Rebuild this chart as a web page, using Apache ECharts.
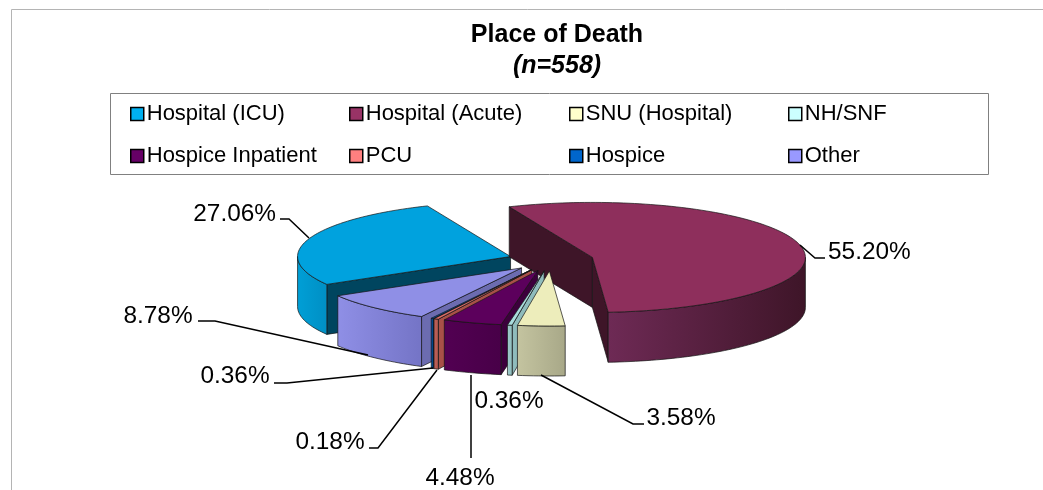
<!DOCTYPE html>
<html><head><meta charset="utf-8">
<style>html,body{margin:0;padding:0;background:#fff}#c{width:1043px;height:490px}</style>
<script src="https://cdn.jsdelivr.net/npm/echarts@6/dist/echarts.min.js"></script>
</head><body><div id="c"></div>
<script>
const categories = ['Hospital (ICU)','Hospital (Acute)','SNU (Hospital)','NH/SNF','Hospice Inpatient','PCU','Hospice','Other'];
const percents = [27.06,55.20,3.58,0.36,4.48,0.36,0.18,8.78];
const legendColumns = [[0,4],[1,5],[2,6],[3,7]];
const legendLefts = [130,349,569,788];
const legendColors = ['#00b0f0','#993366','#ffffcc','#ccffff','#660066','#ff8080','#0066cc','#9999ff'];
const topColors = ['#00a2de','#8e2f5c','#ededbb','#a9dcdc','#5c005c','#d86b66','#0059b0','#8f8fe6'];
const wallLeft = ['#009fd6','#6e2a55','#c4c4a0','#9fcccc','#520052','#c06058','#004f9e','#8f8fe6'];
const wallRight = ['#008fc4','#3e1528','#a8a888','#8fbcbc','#480048','#b05850','#004a90','#7474c6'];
const sideColors = ['#00455f','#3e1528','#a8a888','#8fbcbc','#3c003c','#a85048','#004488','#6c6cb0'];
// text anchor [x,y,align], leader polyline from label to slice
const labelAnchors = [[276,214,'right'],[828,252,'left'],[681,418,'center'],[509,401,'center'],[460,478,'center'],[235,376,'center'],[330,442,'center'],[158,316,'center']];
const leaders = [[[280,219],[289,219],[309,238]],[[825,258],[815,258],[800,245]],[[644,424],[633,424],[541,375]],null,[[471,458],[471,375]],[[274,383],[287,383],[433,368]],[[369,448],[378,448],[437,370]],[[198,321],[215,321],[368,355]]];

const CX=551, CY=260, RX=213, RY=55, DEPTH=50, EXPLODE=0.2, START=149.6;
const rad=d=>d*Math.PI/180;
let acc=START;
const slices=percents.map((p,i)=>{
  const t1=acc, t2=acc+p*3.6; acc=t2; const m=(t1+t2)/2;
  return {i,t1,t2,m,ax:CX+EXPLODE*RX*Math.cos(rad(m)),ay:CY+EXPLODE*RY*Math.sin(rad(m))};
});
const pt=(s,t,dz)=>[s.ax+RX*Math.cos(rad(t)),s.ay+RY*Math.sin(rad(t))+(dz||0)];
function arc(s,a,b,dz){const n=Math.max(2,Math.ceil((b-a)/1.5));const o=[];for(let k=0;k<=n;k++)o.push(pt(s,a+(b-a)*k/n,dz));return o;}
const STROKE={stroke:'#141414',lineWidth:0.7};
function sliceShape(s){
  const ch=[]; const i=s.i;
  const wall=(a,fill)=>{
    const p0=[s.ax,s.ay],p1=pt(s,a);
    ch.push({type:'polygon',shape:{points:[p0,p1,[p1[0],p1[1]+DEPTH],[p0[0],p0[1]+DEPTH]]},style:Object.assign({fill},STROKE)});
  };
  if(Math.cos(rad(s.t1))<0) wall(s.t1,sideColors[i]);
  if(Math.cos(rad(s.t2))>0) wall(s.t2,sideColors[i]);
  for(let k=-1;k<=2;k++){
    const a=Math.max(s.t1,360*k),b=Math.min(s.t2,180+360*k);
    if(b>a){
      const up=arc(s,a,b,0),dn=arc(s,a,b,DEPTH).reverse();
      const fill=new echarts.graphic.LinearGradient(0,0,1,0,[{offset:0,color:wallLeft[i]},{offset:1,color:wallRight[i]}]);
      ch.push({type:'polygon',shape:{points:up.concat(dn)},style:Object.assign({fill},STROKE)});
    }
  }
  ch.push({type:'polygon',shape:{points:[[s.ax,s.ay]].concat(arc(s,s.t1,s.t2,0))},style:Object.assign({fill:topColors[i]},STROKE)});
  return {type:'group',children:ch};
}
const drawOrder=slices.slice().sort((a,b)=>Math.sin(rad(a.m))-Math.sin(rad(b.m)));
const sliceSeries=drawOrder.map((s,o)=>({
  type:'custom',coordinateSystem:'none',name:categories[s.i],z:2+o*0.01,silent:true,
  itemStyle:{color:legendColors[s.i]},
  data:[[percents[s.i]]],
  renderItem:()=>sliceShape(s)
}));
const labelSeries={
  type:'custom',coordinateSystem:'none',name:'labels',z:5,silent:true,
  data:percents.map(p=>[p]),
  renderItem:(params,api)=>{
    const i=params.dataIndex,a=labelAnchors[i],ch=[];
    if(leaders[i]) ch.push({type:'polyline',shape:{points:leaders[i]},style:{stroke:'#000',lineWidth:1.5,fill:'none'}});
    ch.push({type:'text',x:a[0],y:a[1],style:{text:api.value(0).toFixed(2)+'%',fontFamily:'Liberation Sans',fontSize:24.4,fill:'#000',textAlign:a[2],textVerticalAlign:'middle'}});
    return {type:'group',children:ch};
  }
};
const legends=legendColumns.map((col,c)=>({
  orient:'vertical',left:legendLefts[c],top:103,padding:0,itemGap:20,itemWidth:13,itemHeight:13,icon:'rect',
  selectedMode:false,data:col.map(i=>categories[i]),
  itemStyle:{borderColor:'#000',borderWidth:1.5},
  textStyle:{fontFamily:'Liberation Sans',fontSize:22,color:'#000',padding:[0,0,0,-2]}
}));
const chart=echarts.init(document.getElementById('c'),null,{renderer:'canvas'});
chart.setOption({
  animation:false,backgroundColor:'#fff',
  title:{text:'Place of Death',subtext:'(n=558)',left:557,top:23,textAlign:'center',itemGap:6,padding:0,
    textStyle:{fontFamily:'Liberation Sans',fontWeight:'bold',fontSize:25,color:'#000'},
    subtextStyle:{fontFamily:'Liberation Sans',fontWeight:'bold',fontStyle:'italic',fontSize:25,color:'#000'}},
  legend:legends,
  graphic:[
    {type:'polyline',shape:{points:[[11.5,490],[11.5,9.5],[1043,9.5]]},style:{stroke:'#b4b4b4',lineWidth:1,fill:'none'},silent:true},
    {type:'rect',shape:{x:110.5,y:93.5,width:878,height:81},style:{stroke:'#808080',lineWidth:1,fill:'none'},silent:true}
  ],
  series:sliceSeries.concat([labelSeries])
});
</script></body></html>
